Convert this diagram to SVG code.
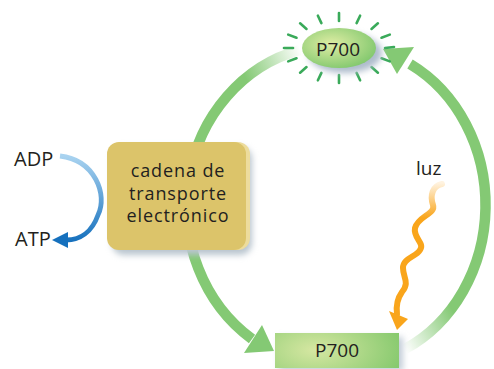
<svg xmlns="http://www.w3.org/2000/svg" width="494" height="369" viewBox="0 0 494 369">
<defs>
<style>
.t{font-family:"Open Sans","Liberation Sans",sans-serif;font-size:19px;fill:#231f20}
.c{font-size:18px;letter-spacing:0.9px}
.s{font-size:20px}
.arc{fill:none;stroke-width:10.5}
.ray{stroke:#3aaa5a;stroke-width:2.6;stroke-linecap:round}
</style>
<filter id="blur" x="-30%" y="-30%" width="160%" height="160%"><feGaussianBlur stdDeviation="3"/></filter>
<linearGradient id="gR" gradientUnits="userSpaceOnUse" x1="405" y1="350" x2="458" y2="320">
<stop offset="0" stop-color="#ffffff"/><stop offset="1" stop-color="#84c974"/></linearGradient>
<linearGradient id="gL" gradientUnits="userSpaceOnUse" x1="300" y1="48" x2="243" y2="72">
<stop offset="0" stop-color="#ffffff"/><stop offset="1" stop-color="#84c974"/></linearGradient>
<linearGradient id="gB" gradientUnits="userSpaceOnUse" x1="0" y1="156" x2="0" y2="242">
<stop offset="0" stop-color="#a9d3f0"/><stop offset="1" stop-color="#1570bd"/></linearGradient>
<linearGradient id="gO" gradientUnits="userSpaceOnUse" x1="0" y1="183" x2="0" y2="218">
<stop offset="0" stop-color="#fff3e0"/><stop offset="1" stop-color="#f9a51b"/></linearGradient>
<radialGradient id="gE" cx="0.4" cy="0.4" r="0.65">
<stop offset="0" stop-color="#dfeda4"/><stop offset="1" stop-color="#82c86e"/></radialGradient>
<radialGradient id="gP" gradientUnits="userSpaceOnUse" cx="315" cy="350" r="90" gradientTransform="translate(315 350) scale(1 0.5) translate(-315 -350)">
<stop offset="0" stop-color="#d6e7a2"/><stop offset="1" stop-color="#86c96e"/></radialGradient>
</defs>

<g id="connectors">
<path class="arc" stroke="url(#gL)" d="M300,50 A150,161 0 0 0 252,339"/>
<polygon fill="#84c974" points="274,351 244,353 262,325"/>
<path class="arc" stroke="url(#gR)" d="M405,349 A143,160 0 0 0 410,64"/>
<polygon fill="#84c974" points="383,49 397,74 414,47"/>
<path fill="none" stroke="url(#gB)" stroke-width="4.8" d="M60,156 C95,160 108,195 98,215 C92,232 80,240 66,240"/>
<polygon fill="#1570bd" points="52,240 68,232 68,248"/>
</g>

<g id="light">
<path fill="none" stroke="url(#gO)" stroke-width="6" stroke-linecap="round" d="M442,184 C432,186 430,196 433,205 C436,214 418,216 415,228 C413,238 425,243 420,250 C416,257 403,258 403,268 C403,278 410,282 402,292 C397,299 396,306 397,314"/>
<polygon fill="#f9a51b" points="389,311 408,319 397,330"/>
<text class="t" x="416" y="175">luz</text>
</g>

<g id="adp-atp">
<text class="t s" x="14" y="166">ADP</text>
<text class="t s" x="15" y="246">ATP</text>
</g>

<g id="cadena">
<rect x="112" y="147" width="140" height="108" rx="12" fill="#b9c5cf" filter="url(#blur)"/>
<rect x="110" y="142" width="140" height="108" rx="12" fill="#eddc9c"/>
<rect x="107" y="142" width="139" height="108" rx="12" fill="#dcc46a"/>
<text class="t c" x="178" y="177" text-anchor="middle">cadena de</text>
<text class="t c" x="178" y="199.5" text-anchor="middle">transporte</text>
<text class="t c" x="178" y="222" text-anchor="middle">electrónico</text>
</g>

<g id="p700-top">
<g class="ray">
<line x1="385" y1="48" x2="394" y2="47"/>
<line x1="381.5" y1="58.3" x2="389.8" y2="61.4"/>
<line x1="371.5" y1="67.1" x2="377.9" y2="72.7"/>
<line x1="356.6" y1="72.9" x2="360.1" y2="80.3"/>
<line x1="339" y1="75" x2="339" y2="83"/>
<line x1="321.4" y1="72.9" x2="317.9" y2="80.3"/>
<line x1="306.5" y1="67.1" x2="300.1" y2="72.7"/>
<line x1="296.5" y1="58.3" x2="288.2" y2="61.4"/>
<line x1="293" y1="48" x2="284" y2="48"/>
<line x1="296.5" y1="37.7" x2="288.2" y2="34.6"/>
<line x1="306.5" y1="28.9" x2="300.1" y2="23.3"/>
<line x1="321.4" y1="23.1" x2="317.9" y2="15.7"/>
<line x1="339" y1="21" x2="339" y2="13"/>
<line x1="356.6" y1="23.1" x2="360.1" y2="15.7"/>
<line x1="371.5" y1="28.9" x2="377.9" y2="23.3"/>
<line x1="381.5" y1="37.7" x2="389.8" y2="34.6"/>
</g>
<ellipse cx="345" cy="53" rx="37" ry="20" fill="#aebccc" filter="url(#blur)"/>
<ellipse cx="339" cy="48" rx="37" ry="20" fill="url(#gE)"/>
<text class="t" x="338" y="56" text-anchor="middle">P700</text>
</g>

<g id="p700-bottom">
<rect x="279" y="337" width="124" height="34" fill="#c3cdd8" filter="url(#blur)"/>
<rect x="275" y="333" width="124" height="35" fill="url(#gP)"/>
<text class="t" x="337" y="357" text-anchor="middle">P700</text>
</g>
</svg>
